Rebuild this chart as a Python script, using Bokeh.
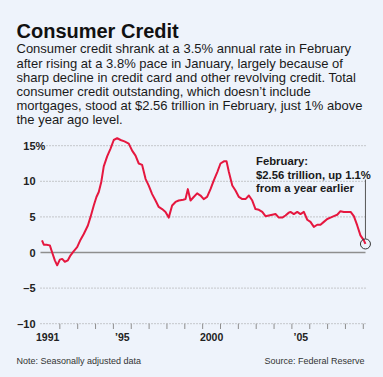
from bokeh.plotting import figure
from bokeh.models import Range1d, Label
from bokeh.embed import file_html
from bokeh.resources import INLINE
from bokeh.core.properties import value

# ---------------- data ----------------
years = [
    1991.00, 1991.10, 1991.25, 1991.44, 1991.57, 1991.72, 1991.85,
    1992.00, 1992.13, 1992.28, 1992.45, 1992.60, 1992.78, 1992.97,
    1993.16, 1993.34, 1993.57, 1993.72, 1993.90,
    1994.05, 1994.18, 1994.32, 1994.46, 1994.65, 1994.84,
    1995.02, 1995.21, 1995.40, 1995.62, 1995.86,
    1996.05, 1996.24, 1996.42, 1996.61, 1996.80, 1996.98,
    1997.17, 1997.36, 1997.54, 1997.73, 1997.92,
    1998.10, 1998.29, 1998.48, 1998.66, 1998.91,
    1999.04, 1999.17, 1999.32, 1999.50, 1999.69, 1999.88,
    2000.06, 2000.25, 2000.44, 2000.62, 2000.82,
    2001.00, 2001.19, 2001.34, 2001.47, 2001.66, 2001.84,
    2002.03, 2002.22, 2002.40, 2002.59, 2002.78, 2002.96,
    2003.15, 2003.34, 2003.52, 2003.71, 2003.90,
    2004.08, 2004.27, 2004.46, 2004.64, 2004.83, 2004.92,
    2005.11, 2005.30, 2005.48, 2005.67, 2005.86,
    2006.04, 2006.23, 2006.42, 2006.60, 2006.79, 2006.98,
    2007.16, 2007.35, 2007.54, 2007.72, 2007.91,
    2008.10, 2008.29, 2008.47, 2008.66, 2008.84,
    2009.03, 2009.12,
]
credit = [
    1.7, 1.1, 1.1, 1.0, 0.0, -1.1, -1.8,
    -1.0, -0.9, -1.3, -1.1, -0.4, 0.2, 0.75,
    1.8, 2.6, 3.8, 5.0, 6.6,
    7.8, 8.5, 9.9, 12.1, 13.5, 14.6,
    15.8, 16.05, 15.8, 15.6, 15.3,
    14.3, 13.6, 12.5, 12.3, 10.35, 9.4,
    8.2, 7.3, 6.4, 6.1, 5.7,
    4.9, 6.6, 7.1, 7.3, 7.4,
    7.5, 8.9, 7.3, 7.8, 8.3, 8.0,
    7.5, 7.8, 8.9, 10.1, 11.3,
    12.5, 12.8, 12.8, 11.3, 9.4, 8.7,
    7.8, 7.5, 7.5, 8.0, 7.3, 6.1,
    6.0, 5.7, 5.1, 5.2, 5.3,
    5.4, 4.9, 4.9, 5.2, 5.6, 5.7,
    5.4, 5.7, 5.4, 5.7, 4.6,
    4.3, 3.6, 3.9, 3.9, 4.3, 4.7,
    4.9, 5.1, 5.3, 5.8, 5.7,
    5.7, 5.7, 5.1, 3.8, 2.4,
    1.7, 1.2,
]
y_ticks = [15, 10, 5, 0, -5, -10]
y_tick_labels = ["15", "10", "5", "0", "\u20135", "\u201310"]
x_tick_years = list(range(1992, 2010))
x_label_years = [1991.32, 1995.5, 2000.5, 2005.5]
x_labels = ["1991", "\u201995", "2000", "\u201905"]

title = "Consumer Credit"
body = [
    "Consumer credit shrank at a 3.5% annual rate in February",
    "after rising at a 3.8% pace in January, largely because of",
    "sharp decline in credit card and other revolving credit. Total",
    "consumer credit outstanding, which doesn\u2019t include",
    "mortgages, stood at $2.56 trillion in February, just 1% above",
    "the year ago level.",
]
annotation = ["February:", "$2.56 trillion, up 1.1%", "from a year earlier"]
note = "Note: Seasonally adjusted data"
source = "Source: Federal Reserve"

# ---------------- layout ----------------
BG = "#eef3fb"
RED = "#e5173f"
FONT = "Liberation Sans"
W, H = 383, 377
ORG = 0                     # page offset of the canvas
X0PX, PXY = 41.5, 17.85     # page px of 1991.0, px per year
Y0PX, PXV = 252.0, 7.12     # page px of 0 %, px per percentage point


def tx(px):
    return 1991 + (px - X0PX) / PXY


def vy(py):
    return (Y0PX - py) / PXV


p = figure(width=W, height=H, x_range=Range1d(tx(ORG), tx(ORG + W)),
           y_range=Range1d(vy(ORG + H), vy(ORG)),
           x_axis_type=None, y_axis_type=None, toolbar_location=None,
           output_backend="svg", min_border=0,
           background_fill_color=BG, border_fill_color=BG,
           outline_line_color=None)

# grid lines
gx0, gx1 = tx(40), tx(365)
grid_vals = [v for v in y_ticks if v != 0]
p.segment(x0=[gx0] * len(grid_vals), x1=[gx1] * len(grid_vals),
          y0=grid_vals, y1=grid_vals, line_color="#9a9a9a",
          line_width=1, line_dash="1 2")
p.segment(x0=[gx0], x1=[gx1], y0=[0], y1=[0], line_color="#8e8e8e",
          line_width=1.6)

# x ticks below the -10 line
bottom = min(y_ticks)
p.segment(x0=x_tick_years, x1=x_tick_years,
          y0=[bottom] * len(x_tick_years),
          y1=[vy(328.5)] * len(x_tick_years),
          line_color="#8e8e8e", line_width=1)

# data line
p.line(years, credit, line_color=RED, line_width=2, line_join="round")

# annotation marker and leader
p.segment(x0=[years[-1]], x1=[years[-1]], y0=[vy(179)],
          y1=[credit[-1] + 5.2 / PXV], line_color="#555555", line_width=1)
p.scatter([years[-1]], [credit[-1]], marker="circle", size=10,
          fill_color=None, line_color="#333333", line_width=1)

# y tick labels
p.text(x=[tx(35)] * len(y_ticks), y=y_ticks, text=y_tick_labels,
       text_align="right", text_baseline="middle",
       text_font=value(FONT), text_font_style="bold",
       text_font_size="11px", text_color="#222222")
p.add_layout(Label(x=tx(35), y=15, text="%", text_align="left",
                   text_baseline="middle", text_font=FONT,
                   text_font_style="bold", text_font_size="11px",
                   text_color="#222222"))

# x labels
p.text(x=x_label_years, y=[vy(336.5)] * len(x_labels), text=x_labels,
       text_align="center", text_baseline="alphabetic",
       text_font=value(FONT), text_font_style="bold",
       text_font_size="10.5px", text_color="#222222")

# title and body
p.add_layout(Label(x=tx(16), y=vy(30), text=title, text_align="left",
                   text_baseline="alphabetic", text_font=FONT,
                   text_font_style="bold", text_font_size="20px",
                   text_color="#111111"))
for i, line in enumerate(body):
    p.add_layout(Label(x=tx(16), y=vy(48.3 + 14.2 * i), text=line,
                       text_align="left", text_baseline="alphabetic",
                       text_font=FONT, text_font_size="13px",
                       text_color="#1a1a1a"))

# annotation text
for i, line in enumerate(annotation):
    p.add_layout(Label(x=tx(255.5), y=vy(160.5 + 13.6 * i), text=line,
                       text_align="left", text_baseline="alphabetic",
                       text_font=FONT, text_font_style="bold",
                       text_font_size="11.3px", text_color="#1a1a1a"))

# footer
p.add_layout(Label(x=tx(16), y=vy(360), text=note, text_align="left",
                   text_baseline="alphabetic", text_font=FONT,
                   text_font_size="9px", text_color="#333333"))
p.add_layout(Label(x=tx(364), y=vy(360), text=source, text_align="right",
                   text_baseline="alphabetic", text_font=FONT,
                   text_font_size="9px", text_color="#333333"))

html = file_html(p, INLINE)
html = html.replace("<head>", "<head><style>body{background:%s;}</style>" % BG, 1)
open("out.html", "w").write(html)
